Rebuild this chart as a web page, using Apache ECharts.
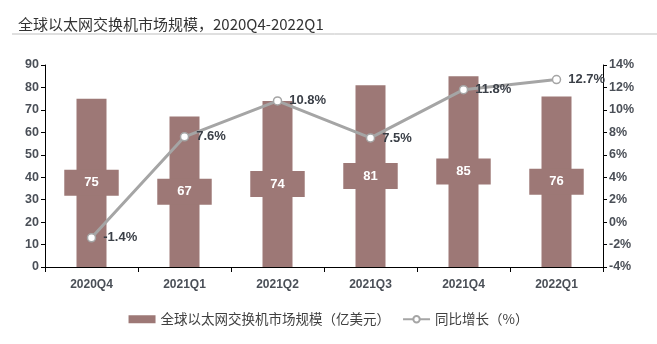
<!DOCTYPE html>
<html><head><meta charset="utf-8">
<script src="https://cdn.jsdelivr.net/npm/echarts@6/dist/echarts.min.js"></script>
<style>html,body{margin:0;padding:0;background:#fff}#c{width:657px;height:344px}</style>
</head><body><div id="c"></div>
<script>
const categories = ['2020Q4','2021Q1','2021Q2','2021Q3','2021Q4','2022Q1'];
const marketSize = [75, 67, 74, 81, 85, 76];
const growthRate = [-1.4, 7.6, 10.8, 7.5, 11.8, 12.7];
const barName = '全球以太网交换机市场规模（亿美元）';
const lineName = '同比增长（%）';
const titleText = '全球以太网交换机市场规模，2020Q4-2022Q1';

const barColor = '#9d7876';
const lineColor = '#a5a5a5';
const txt = '#404040';
const font = '"Liberation Sans", "Noto Sans CJK SC", sans-serif';

const chart = echarts.init(document.getElementById('c'));
chart.setOption({
  animation: false,
  textStyle: { fontFamily: font },
  title: {
    text: titleText, left: 13, top: 12,
    textStyle: { fontSize: 15, fontWeight: 'normal', color: '#333', fontFamily: '"Noto Sans CJK SC", sans-serif' }
  },
  graphic: [{ type: 'line', shape: { x1: 12, y1: 34, x2: 657, y2: 34 }, style: { stroke: '#bfbfbf', lineWidth: 1 } }],
  grid: { left: 45, right: 54, top: 65, bottom: 77 },
  legend: {
    bottom: 13, left: 'center', itemGap: 12,
    textStyle: { fontSize: 13.5, color: txt, fontFamily: '"Noto Sans CJK SC", sans-serif' },
    data: [
      { name: barName, icon: 'rect', itemStyle: { color: barColor } },
      { name: lineName }
    ],
    itemWidth: 27, itemHeight: 8
  },
  xAxis: {
    type: 'category', data: categories,
    axisLine: { lineStyle: { color: '#000', width: 1 } },
    axisTick: { show: true, length: 5, lineStyle: { color: '#000' } },
    axisLabel: { color: '#4a4f57', fontSize: 12, fontWeight: 'bold', margin: 12 }
  },
  yAxis: [
    {
      type: 'value', min: 0, max: 90, interval: 10,
      splitLine: { show: false },
      axisLine: { show: true, lineStyle: { color: '#000' } },
      axisTick: { show: true, length: 4, lineStyle: { color: '#000' } },
      axisLabel: { color: '#4a4f57', fontSize: 12.5, fontWeight: 'bold', margin: 6 }
    },
    {
      type: 'value', min: -4, max: 14, interval: 2,
      splitLine: { show: false },
      axisLine: { show: true, lineStyle: { color: '#000' } },
      axisTick: { show: true, length: 4, lineStyle: { color: '#000' } },
      axisLabel: { color: '#4a4f57', fontSize: 12.5, fontWeight: 'bold', margin: 6, formatter: '{value}%' }
    }
  ],
  series: [
    {
      name: barName, type: 'bar', data: marketSize, barWidth: 30,
      itemStyle: { color: barColor },
      label: {
        show: true, position: 'inside', color: '#fff', fontSize: 13, fontWeight: 'bold',
        backgroundColor: barColor, padding: [7, 20, 6, 20]
      }
    },
    {
      name: lineName, type: 'line', yAxisIndex: 1, data: growthRate,
      lineStyle: { color: lineColor, width: 3 },
      itemStyle: { color: '#fff', borderColor: lineColor, borderWidth: 1.5 },
      symbol: 'circle', symbolSize: 8, showAllSymbol: true,
      label: {
        show: true, position: 'right', distance: 7, color: '#3a3f47', fontSize: 13, fontWeight: 'bold',
        formatter: p => p.value + '%'
      },
      z: 5
    }
  ]
});
</script></body></html>
